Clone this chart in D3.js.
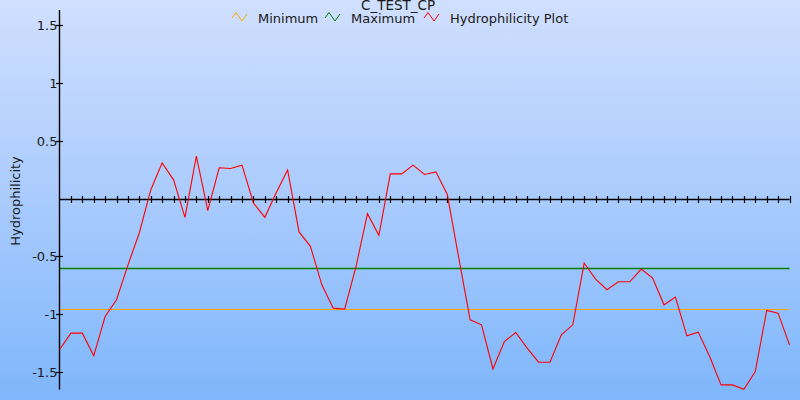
<!DOCTYPE html>
<html><head><meta charset="utf-8">
<script src="https://cdn.jsdelivr.net/npm/d3@7"></script>
<style>
html,body{margin:0;padding:0;}
svg{display:block;font-family:"DejaVu Sans",Verdana,sans-serif;}
</style></head>
<body>
<svg id="chart" width="800" height="400"></svg>
<script>
// ---- data ----
const chartTitle = "C_TEST_CP";
const yAxisTitle = "Hydrophilicity";
const seriesNames = ["Minimum", "Maximum", "Hydrophilicity Plot"];
const seriesColors = ["#ffa500", "#008000", "#ff0000"];
const minimumValue = [-0.955];
const maximumValue = [-0.600];
const positions = d3.range(0, 65);
const hydrophilicity = [
  -1.307, -1.163, -1.163, -1.359, -1.019, -0.874, -0.575, -0.295, 0.075, 0.309,
   0.162, -0.162, 0.367, -0.104, 0.266, 0.260, 0.289, -0.038, -0.162, 0.050,
   0.248, -0.288, -0.413, -0.745, -0.947, -0.955, -0.586, -0.130, -0.317, 0.214,
   0.214, 0.289, 0.208, 0.231, 0.035, -0.510, -1.048, -1.091, -1.472, -1.235,
  -1.157, -1.293, -1.414, -1.414, -1.177, -1.091, -0.557, -0.696, -0.788, -0.719,
  -0.719, -0.609, -0.687, -0.918, -0.851, -1.186, -1.154, -1.365, -1.610, -1.610,
  -1.648, -1.495, -0.967, -0.990, -1.264
];
const yTickValues = [1.5, 1, 0.5, -0.5, -1, -1.5];
const yTickLabels = ["1.5", "1", "0.5", "-0.5", "-1", "-1.5"];
const yDomain = [-1.65, 1.63];

// ---- drawing ----
const svg = d3.select("#chart");
const W = 800, H = 400;
const defs = svg.append("defs");
const grad = defs.append("linearGradient").attr("id","bg").attr("x1",0).attr("y1",0).attr("x2",0).attr("y2",1);
grad.append("stop").attr("offset","0%").attr("stop-color","#d0dffe");
grad.append("stop").attr("offset","50%").attr("stop-color","#a9cbfd");
grad.append("stop").attr("offset","100%").attr("stop-color","#7eb6fb");
svg.append("rect").attr("width",W).attr("height",H).attr("fill","url(#bg)");

const pLeft = 59.5, pRight = 789.5, pTop = 10, pBottom = 389.5;
const x = d3.scaleLinear().domain([0, positions.length - 1]).range([pLeft, pRight]);
const y = d3.scaleLinear().domain(yDomain).range([pBottom, pTop]);

// min / max reference lines
svg.append("line").attr("x1", pLeft).attr("x2", pRight)
  .attr("y1", Math.round(y(minimumValue[0])) + 0.5).attr("y2", Math.round(y(minimumValue[0])) + 0.5)
  .attr("stroke", seriesColors[0]).attr("stroke-width", 1);
svg.append("line").attr("x1", pLeft).attr("x2", pRight)
  .attr("y1", Math.round(y(maximumValue[0])) + 0.5).attr("y2", Math.round(y(maximumValue[0])) + 0.5)
  .attr("stroke", seriesColors[1]).attr("stroke-width", 1.3);

// x axis at zero with crossing ticks
const y0 = Math.round(y(0)) + 0.5;
svg.append("line").attr("x1", pLeft).attr("x2", pRight).attr("y1", y0).attr("y2", y0)
  .attr("stroke", "#000").attr("stroke-width", 1.4);
svg.append("g").selectAll("line").data(positions.slice(1)).join("line")
  .attr("x1", d => Math.round(x(d)) + 0.5).attr("x2", d => Math.round(x(d)) + 0.5)
  .attr("y1", y0 - 3.5).attr("y2", y0 + 3.5)
  .attr("stroke", "#000").attr("stroke-width", 1.2);

// y axis
svg.append("line").attr("x1", pLeft).attr("x2", pLeft).attr("y1", pTop).attr("y2", pBottom)
  .attr("stroke", "#000").attr("stroke-width", 1.4);
const yt = svg.append("g");
yt.selectAll("line").data(yTickValues).join("line")
  .attr("x1", pLeft - 3.5).attr("x2", pLeft + 3.5)
  .attr("y1", d => Math.round(y(d)) + 0.5).attr("y2", d => Math.round(y(d)) + 0.5)
  .attr("stroke", "#000").attr("stroke-width", 1.2);
yt.selectAll("text").data(yTickValues).join("text")
  .attr("x", pLeft - 2).attr("y", d => y(d) + 5)
  .attr("text-anchor", "end").attr("font-size", 13).attr("fill", "#1a1a1a")
  .text((d, i) => yTickLabels[i]);

svg.append("text").attr("transform", `translate(19.5,201) rotate(-90)`)
  .attr("text-anchor", "middle").attr("font-size", 13).attr("fill", "#1a1a1a")
  .text(yAxisTitle);

// data line
const line = d3.line().x((d, i) => x(positions[i])).y(d => y(d));
svg.append("path").datum(hydrophilicity).attr("d", line)
  .attr("fill", "none").attr("stroke", seriesColors[2]).attr("stroke-width", 1.1)
  .attr("stroke-linejoin", "miter");

// title
svg.append("text").attr("x", 398).attr("y", 9.5).attr("text-anchor", "middle")
  .attr("font-size", 13.5).attr("fill", "#1a1a1a").text(chartTitle);

// legend
const legendX = [232, 325, 424];
const lg = svg.append("g");
seriesNames.forEach((name, i) => {
  const g = lg.append("g").attr("transform", `translate(${legendX[i]},12)`);
  g.append("path").attr("d", "M0,6 L4,0.5 L10,9 L15,2").attr("fill", "none")
    .attr("stroke", seriesColors[i]).attr("stroke-width", 1);
  g.append("text").attr("x", 26).attr("y", 11).attr("font-size", 13).attr("fill", "#1a1a1a").text(name);
});
</script>
</body></html>
